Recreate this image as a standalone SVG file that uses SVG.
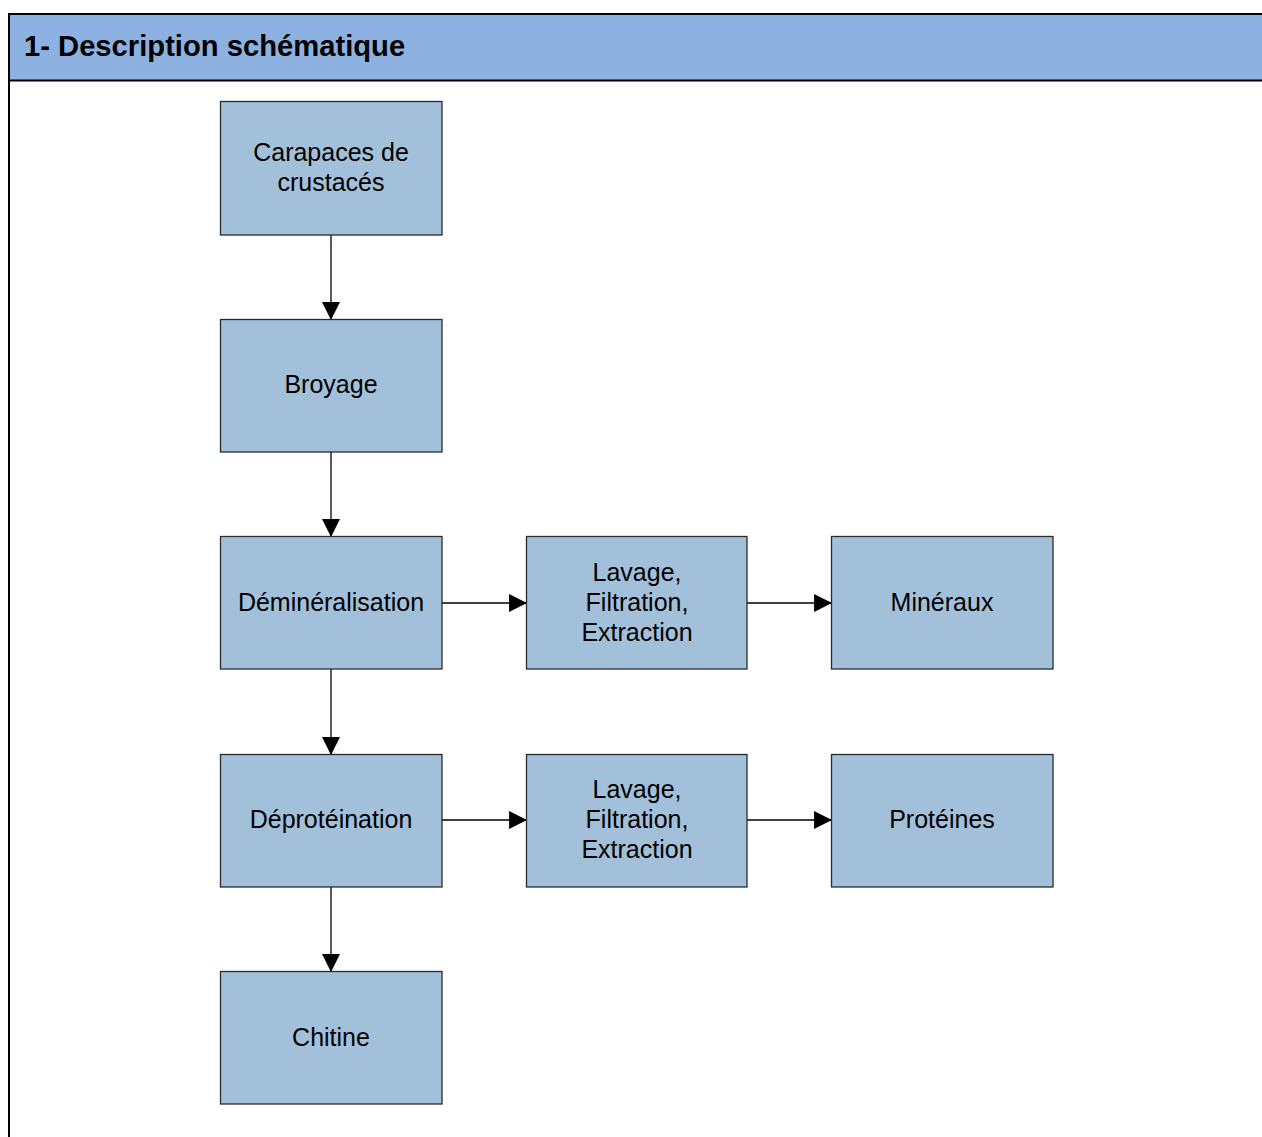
<svg xmlns="http://www.w3.org/2000/svg" width="1262" height="1137" viewBox="0 0 1262 1137">
<style>
.box{fill:#A2C0DA;stroke:#2b2b2b;stroke-width:1.3}
.lbl{font-family:"Liberation Sans",Arial,sans-serif;font-size:25px;fill:#000;text-anchor:middle}
.title{font-family:"Liberation Sans",Arial,sans-serif;font-size:29.2px;font-weight:bold;fill:#000}
.conn{stroke:#000;stroke-width:1.3;fill:none}
</style>
<defs>
<marker id="arr" markerUnits="userSpaceOnUse" markerWidth="18" markerHeight="18" refX="16" refY="8.5" orient="auto" viewBox="0 0 17 17">
<path d="M0,0 L17,8.5 L0,17 Z" fill="#000"/>
</marker>
</defs>
<rect width="1262" height="1137" fill="#fff"/>
<g id="header">
<rect x="9" y="14" width="1260" height="66.5" fill="#8DB2E1"/>
<line x1="9" y1="14" x2="1262" y2="14" stroke="#000" stroke-width="2"/>
<line x1="9" y1="80.5" x2="1262" y2="80.5" stroke="#000" stroke-width="2"/>
<line x1="9" y1="13" x2="9" y2="1137" stroke="#000" stroke-width="2"/>
<text class="title" x="24" y="56">1- Description schématique</text>
</g>
<g id="connectors">
<line class="conn" x1="331" y1="235" x2="331" y2="319" marker-end="url(#arr)"/>
<line class="conn" x1="331" y1="452" x2="331" y2="536" marker-end="url(#arr)"/>
<line class="conn" x1="331" y1="669" x2="331" y2="754" marker-end="url(#arr)"/>
<line class="conn" x1="331" y1="887" x2="331" y2="971" marker-end="url(#arr)"/>
<line class="conn" x1="442" y1="603" x2="526" y2="603" marker-end="url(#arr)"/>
<line class="conn" x1="747" y1="603" x2="831" y2="603" marker-end="url(#arr)"/>
<line class="conn" x1="442" y1="820" x2="526" y2="820" marker-end="url(#arr)"/>
<line class="conn" x1="747" y1="820" x2="831" y2="820" marker-end="url(#arr)"/>
</g>
<g id="n1"><rect class="box" x="220.5" y="101.5" width="221.5" height="133.5"/>
<text class="lbl" x="331" y="161">Carapaces de</text><text class="lbl" x="331" y="191">crustacés</text></g>
<g id="n2"><rect class="box" x="220.5" y="319.5" width="221.5" height="132.5"/>
<text class="lbl" x="331" y="393">Broyage</text></g>
<g id="n3"><rect class="box" x="220.5" y="536.5" width="221.5" height="132.5"/>
<text class="lbl" x="331" y="611">Déminéralisation</text></g>
<g id="n4"><rect class="box" x="526.5" y="536.5" width="220.5" height="132.5"/>
<text class="lbl" x="637" y="581">Lavage,</text><text class="lbl" x="637" y="611">Filtration,</text><text class="lbl" x="637" y="641">Extraction</text></g>
<g id="n5"><rect class="box" x="831.5" y="536.5" width="221.5" height="132.5"/>
<text class="lbl" x="942" y="611">Minéraux</text></g>
<g id="n6"><rect class="box" x="220.5" y="754.5" width="221.5" height="132.5"/>
<text class="lbl" x="331" y="828">Déprotéination</text></g>
<g id="n7"><rect class="box" x="526.5" y="754.5" width="220.5" height="132.5"/>
<text class="lbl" x="637" y="798">Lavage,</text><text class="lbl" x="637" y="828">Filtration,</text><text class="lbl" x="637" y="858">Extraction</text></g>
<g id="n8"><rect class="box" x="831.5" y="754.5" width="221.5" height="132.5"/>
<text class="lbl" x="942" y="828">Protéines</text></g>
<g id="n9"><rect class="box" x="220.5" y="971.5" width="221.5" height="132.5"/>
<text class="lbl" x="331" y="1046">Chitine</text></g>
</svg>
